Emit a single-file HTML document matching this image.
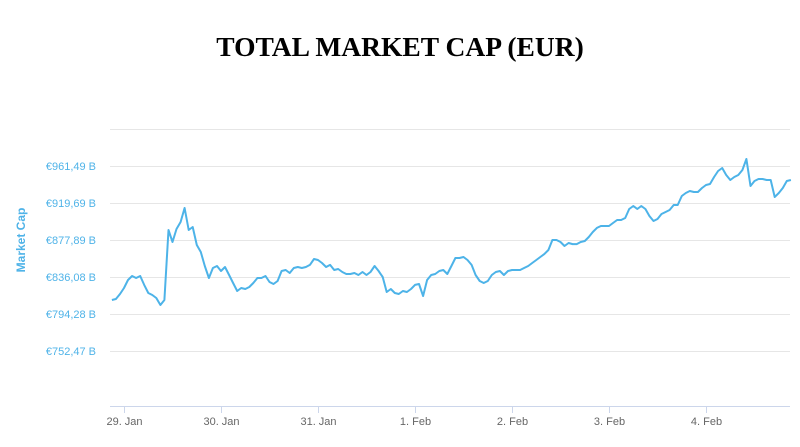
<!DOCTYPE html>
<html><head><meta charset="utf-8"><style>
html,body{margin:0;padding:0;background:#fff;width:800px;height:447px;overflow:hidden}
svg text{font-family:"Liberation Sans",sans-serif}
</style></head><body>
<svg id="chart" width="800" height="447" viewBox="0 0 800 447" xmlns="http://www.w3.org/2000/svg">
<text x="400" y="56" text-anchor="middle" style="font-family:'Liberation Serif',serif;font-weight:bold;font-size:27.5px" fill="#000">TOTAL MARKET CAP (EUR)</text>
<text transform="translate(25,240) rotate(-90)" text-anchor="middle" font-size="12" font-weight="bold" fill="#4fb3e8">Market Cap</text>
<g id="grid"></g><g id="yticks"></g><g id="xticks"></g>
<line x1="110" y1="406.5" x2="790" y2="406.5" stroke="#ccd6eb" stroke-width="1"/>
<path id="series" fill="none" stroke="#4db3e8" stroke-width="2" stroke-linejoin="round"/>
</svg>
<script>
const yTickValues=[752.47,794.28,836.08,877.89,919.69,961.49];
const yTickLabels=["€752,47 B","€794,28 B","€836,08 B","€877,89 B","€919,69 B","€961,49 B"];
const xTickLabels=["29. Jan","30. Jan","31. Jan","1. Feb","2. Feb","3. Feb","4. Feb"];
const startHour=-3;
const values=[810.1,811.2,816.9,823.7,832.7,837.2,834.9,837.2,827.1,818.0,815.7,812.4,804.5,810.1,889.2,875.6,890.3,898.2,914.0,889.2,892.6,872.2,864.3,848.5,834.9,846.3,848.5,842.9,847.4,838.3,829.3,820.3,823.7,822.5,824.8,829.3,834.9,834.9,837.2,830.4,828.2,831.6,842.9,844.0,840.6,846.3,847.4,846.3,847.4,849.7,856.4,855.3,851.9,847.4,849.7,844.0,845.1,841.7,839.5,839.5,840.6,838.3,841.7,838.3,841.7,848.5,842.9,836.1,819.1,822.5,818.0,816.9,820.3,819.1,822.5,827.1,828.2,814.6,832.7,838.3,839.5,842.9,844.0,839.5,848.5,857.6,857.6,858.7,855.3,849.7,838.3,831.6,829.3,831.6,838.3,841.7,842.9,838.3,842.9,844.0,844.0,844.0,846.3,848.5,851.9,855.3,858.7,862.0,866.6,877.9,877.9,875.6,871.1,874.5,873.3,873.3,875.6,876.7,881.3,886.9,891.5,893.7,893.7,893.7,897.1,900.5,900.5,902.7,912.9,916.3,912.9,916.3,912.9,905.0,899.4,901.6,907.3,909.5,911.8,917.4,917.4,927.6,931.0,933.3,932.1,932.1,936.6,940.0,941.2,949.1,955.8,959.2,951.3,945.7,949.1,951.3,957.0,969.4,938.9,944.5,946.8,946.8,945.7,945.7,926.5,931.0,936.6,944.5,945.7];
const NS="http://www.w3.org/2000/svg";
const yScale=v=>166+(961.49-v)*(37/41.803);
const xScale=h=>124+h*(97/24);
const grid=document.getElementById('grid'),yt=document.getElementById('yticks'),xt=document.getElementById('xticks');
const step=yTickValues[1]-yTickValues[0];
const gridVals=yTickValues.concat([yTickValues[yTickValues.length-1]+step]);
gridVals.forEach(v=>{const l=document.createElementNS(NS,'line');


const y=Math.round(yScale(v))+0.5;l.setAttribute('x1',110);l.setAttribute('x2',790);l.setAttribute('y1',y);l.setAttribute('y2',y);l.setAttribute('stroke','#e6e6e6');grid.appendChild(l);});
yTickValues.forEach((v,i)=>{const t=document.createElementNS(NS,'text');


t.setAttribute('x',96);t.setAttribute('y',yScale(v)+4);t.setAttribute('text-anchor','end');t.setAttribute('font-size','11');t.setAttribute('fill','#4fb3e8');t.textContent=yTickLabels[i];yt.appendChild(t);});
xTickLabels.forEach((s,i)=>{const x=Math.round(xScale(i*24))+0.5;
const tk=document.createElementNS(NS,'line');


tk.setAttribute('x1',x);tk.setAttribute('x2',x);tk.setAttribute('y1',406);tk.setAttribute('y2',413);tk.setAttribute('stroke','#ccd6eb');xt.appendChild(tk);
const t=document.createElementNS(NS,'text');


t.setAttribute('x',x);t.setAttribute('y',425);t.setAttribute('text-anchor','middle');t.setAttribute('font-size','11');t.setAttribute('fill','#666');t.textContent=s;xt.appendChild(t);});
document.getElementById('series').setAttribute('d',values.map((v,i)=>(i?'L':'M')+xScale(startHour+i).toFixed(1)+','+yScale(v).toFixed(1)).join(''));
</script>
</body></html>
